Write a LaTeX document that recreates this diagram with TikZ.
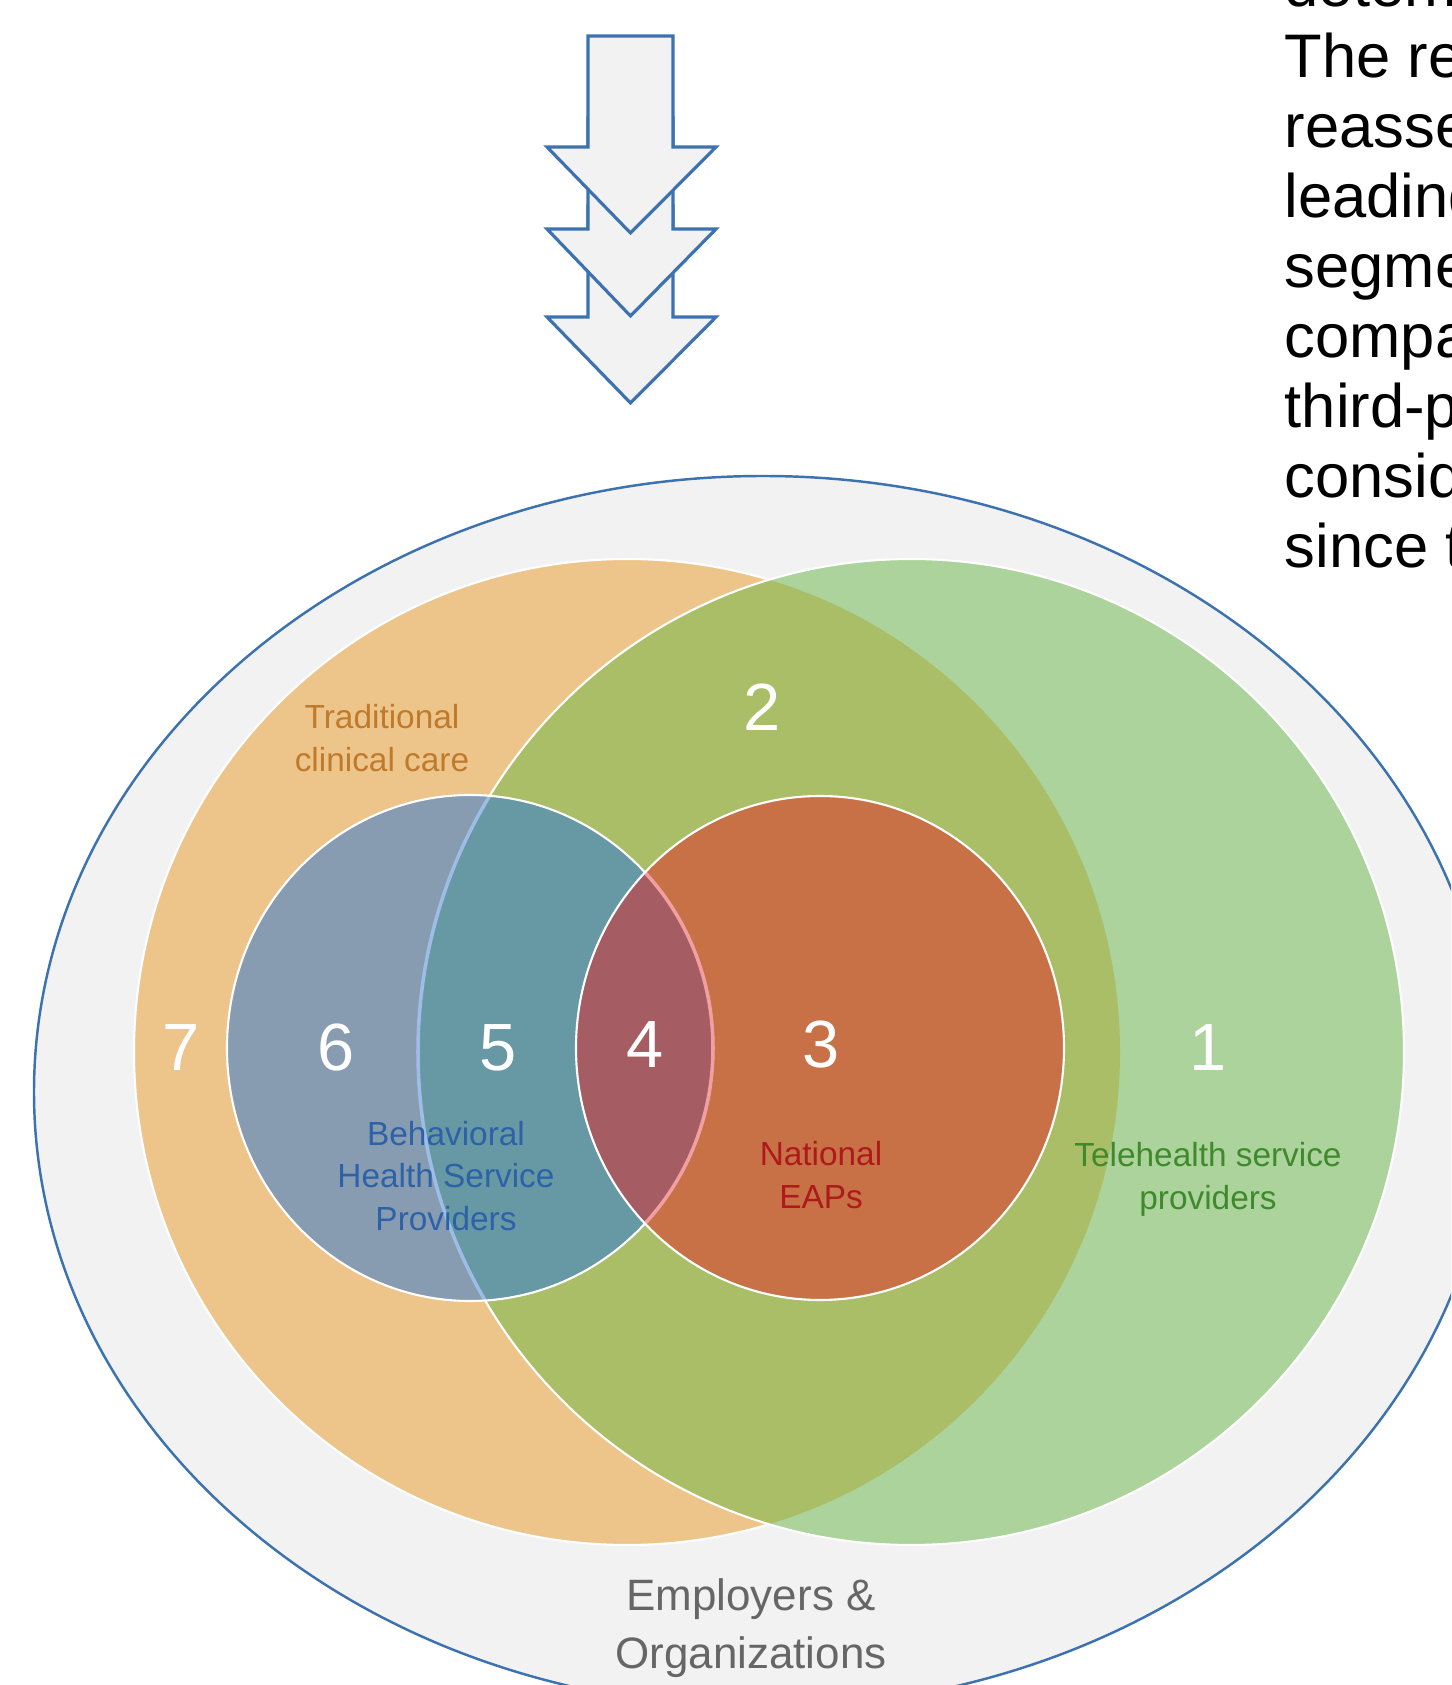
\documentclass[tikz,border=0pt]{standalone}
\usepackage{fontspec}
\setmainfont{Liberation Sans}

\definecolor{boxgray}{HTML}{F2F2F2}
\definecolor{edgeblue}{HTML}{3C72B0}
\definecolor{careorange}{HTML}{EDC58A}
\definecolor{telegreen}{HTML}{ACD39C}
\definecolor{bothgreen}{HTML}{AABD67}
\definecolor{bhsorange}{HTML}{879CB1}
\definecolor{bhsgreen}{HTML}{6699A3}
\definecolor{eapred}{HTML}{C87146}
\definecolor{eapbhs}{HTML}{A55D63}
\definecolor{bhsline}{HTML}{9DBDE6}
\definecolor{eapline}{HTML}{F0A0A0}
\definecolor{caretext}{HTML}{BF7A2C}
\definecolor{bhstext}{HTML}{2D62A8}
\definecolor{eaptext}{HTML}{AE1A1A}
\definecolor{teletext}{HTML}{3F8A2C}
\definecolor{orgtext}{HTML}{666666}

% the four sets
\newcommand{\careshape}{(6.27,6.33) circle (4.93)}
\newcommand{\teleshape}{(9.11,6.33) circle (4.93)}
\newcommand{\bhsshape}{(4.70,6.37) ellipse [x radius=2.43, y radius=2.53]}
\newcommand{\eapshape}{(8.20,6.37) ellipse [x radius=2.44, y radius=2.52]}

\tikzset{
  num/.style={text=white, inner sep=0pt, font=\fontsize{19}{19}\selectfont},
  tag/.style={align=center, inner sep=0pt, font=\fontsize{9.5}{12.2}\selectfont},
  body/.style={inner sep=0pt, anchor=base west, font=\fontsize{17.5}{20}\selectfont},
  rim/.style={white, line width=0.6pt},
  blockarrow/.style={draw=edgeblue, fill=boxgray, line width=0.9pt, line join=miter},
}

\begin{document}
\begin{tikzpicture}
    \useasboundingbox (0,0) rectangle (14.51,16.85);
    \clip (0,0) rectangle (14.51,16.85);

    % employers and organizations
    \draw[edgeblue, fill=boxgray, line width=0.7pt] (7.63,5.93) ellipse [x radius=7.29, y radius=6.16];

    % traditional care and telehealth
    \fill[careorange] \careshape;
    \draw[rim] \careshape;
    \fill[telegreen] \teleshape;
    \begin{scope}
        \clip \careshape;
        \fill[bothgreen] \teleshape;
    \end{scope}
    \draw[rim] \teleshape;

    % behavioral health providers
    \fill[bhsorange] \bhsshape;
    \begin{scope}
        \clip \bhsshape;
        \fill[bhsgreen] \teleshape;
        \draw[bhsline, line width=1pt] \teleshape;
    \end{scope}
    \draw[rim] \bhsshape;

    % national EAPs
    \fill[eapred] \eapshape;
    \begin{scope}
        \clip \eapshape;
        \fill[eapbhs] \bhsshape;
        \draw[eapline, line width=1pt] \bhsshape;
    \end{scope}
    \draw[rim] \eapshape;

    % region numbers
    \node[num] (n1) at (12.08, 6.37) {1};
    \node[num] (n2) at (7.62, 9.78) {2};
    \node[num] (n3) at (8.21, 6.40) {3};
    \node[num] (n4) at (6.45, 6.40) {4};
    \node[num] (n5) at (4.98, 6.37) {5};
    \node[num] (n6) at (3.36, 6.37) {6};
    \node[num] (n7) at (1.81, 6.37) {7};

    % set names
    \node[tag, text=caretext] (care) at (3.82, 9.465) {Traditional\\clinical care};
    \node[tag, text=bhstext] (bhs) at (4.46, 5.09) {Behavioral\\Health Service\\Providers};
    \node[tag, text=eaptext] (eap) at (8.21, 5.10) {National\\EAPs};
    \node[tag, text=teletext] (tele) at (12.08, 5.06) {Telehealth service\\providers};
    \node[tag, text=orgtext, font=\fontsize{12.5}{16.5}\selectfont] (org) at (7.51, 0.57) {Employers \&\\Organizations};

    % stacked arrows, lowest first
    \foreach \ya/\yb/\yc in {14.79/13.68/12.82, 15.67/14.56/13.69, 16.49/15.38/14.52}
        \draw[blockarrow] (5.88,\ya) -- (6.73,\ya) -- (6.73,\yb) -- (7.16,\yb)
            -- (6.305,\yc) -- (5.47,\yb) -- (5.88,\yb) -- cycle;

    % running text at the right
    \foreach \word [count=\i from 0] in {determ, The re, reasse, leading, segme, compa, third-p, consid, since t}
        \node[body] (line\i) at (12.84, 16.78-0.701*\i) {\word};
\end{tikzpicture}
\end{document}
